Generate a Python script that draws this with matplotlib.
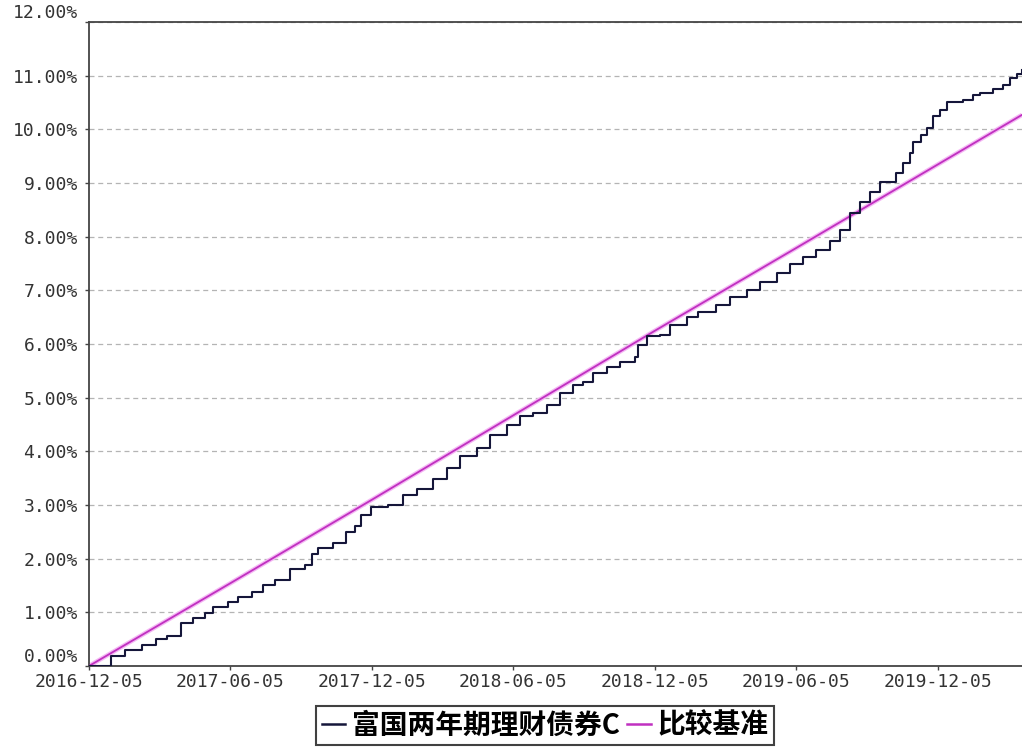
import pandas as pd
import matplotlib
matplotlib.use("Agg")
import matplotlib.pyplot as plt
import matplotlib.dates as mdates

# fund cumulative return (%)
fund_dates = [
    "2016-12-05", "2017-01-03", "2017-01-20", "2017-02-11", "2017-03-02", "2017-03-15",
    "2017-04-03", "2017-04-18", "2017-05-04", "2017-05-14", "2017-06-02", "2017-06-15",
    "2017-07-03", "2017-07-17", "2017-08-02", "2017-08-21", "2017-09-09", "2017-09-18",
    "2017-09-26", "2017-10-16", "2017-11-02", "2017-11-13", "2017-11-21", "2017-12-04",
    "2017-12-25", "2018-01-14", "2018-02-01", "2018-02-21", "2018-03-11", "2018-03-29",
    "2018-04-19", "2018-05-06", "2018-05-28", "2018-06-14", "2018-06-30", "2018-07-18",
    "2018-08-04", "2018-08-21", "2018-09-03", "2018-09-16", "2018-10-04", "2018-10-21",
    "2018-11-09", "2018-11-13", "2018-11-24", "2018-12-11", "2018-12-24", "2019-01-15",
    "2019-01-29", "2019-02-22", "2019-03-11", "2019-04-02", "2019-04-19", "2019-05-11",
    "2019-05-28", "2019-06-14", "2019-07-01", "2019-07-18", "2019-07-31", "2019-08-13",
    "2019-08-26", "2019-09-08", "2019-09-21", "2019-10-12", "2019-10-20", "2019-10-29",
    "2019-11-02", "2019-11-13", "2019-11-20", "2019-11-28", "2019-12-07", "2019-12-16",
    "2020-01-06", "2020-01-19", "2020-01-28", "2020-02-14", "2020-02-27", "2020-03-07",
    "2020-03-15", "2020-03-22",
]
fund_values = [
    0.00, 0.19, 0.30, 0.39, 0.50, 0.55,
    0.80, 0.89, 0.99, 1.10, 1.20, 1.29,
    1.38, 1.51, 1.60, 1.81, 1.88, 2.09,
    2.20, 2.29, 2.50, 2.60, 2.81, 2.97,
    3.00, 3.19, 3.30, 3.48, 3.69, 3.91,
    4.06, 4.30, 4.49, 4.65, 4.71, 4.86,
    5.08, 5.24, 5.30, 5.46, 5.58, 5.67,
    5.76, 5.98, 6.14, 6.17, 6.35, 6.51,
    6.60, 6.73, 6.87, 7.00, 7.16, 7.32,
    7.49, 7.63, 7.76, 7.91, 8.12, 8.44,
    8.65, 8.84, 9.02, 9.18, 9.37, 9.56,
    9.77, 9.89, 10.02, 10.24, 10.36, 10.51,
    10.55, 10.64, 10.67, 10.76, 10.83, 10.95,
    11.04, 11.10,
]

# benchmark (%), straight line read at the tick dates
bench_dates = ["2016-12-05", "2017-06-05", "2017-12-05", "2018-06-05",
               "2018-12-05", "2019-06-05", "2019-12-05", "2020-03-22"]
bench_values = [0.00, 1.54, 3.10, 4.67, 6.25, 7.79, 9.35, 10.27]

tick_dates = ["2016-12-05", "2017-06-05", "2017-12-05", "2018-06-05",
              "2018-12-05", "2019-06-05", "2019-12-05"]
y_ticks = [0, 1, 2, 3, 4, 5, 6, 7, 8, 9, 10, 11, 12]

fund_label = "富国两年期理财债券C"
bench_label = "比较基准"

fund_x = pd.to_datetime(fund_dates)
bench_x = pd.to_datetime(bench_dates)
ticks_x = pd.to_datetime(tick_dates)

fig = plt.figure(figsize=(10.22, 7.47), dpi=100)
ax = fig.add_axes([89 / 1022, 1 - 666 / 747, 1 - 89 / 1022, (666 - 22) / 747])

ax.plot(bench_x, bench_values, color="#f4b8f4", lw=3.2, solid_capstyle="butt", zorder=2)
bench_line, = ax.plot(bench_x, bench_values, color="#c030c0", lw=1.3, zorder=3)
fund_line, = ax.plot(fund_x, fund_values, color="#15163a", lw=1.5,
                     drawstyle="steps-post", zorder=4)

ax.set_xlim(fund_x[0], fund_x[-1])
ax.set_ylim(0, 12)
ax.set_yticks(y_ticks, [f"{v:.2f}%" for v in y_ticks])
ax.set_xticks(ticks_x)
ax.xaxis.set_major_formatter(mdates.DateFormatter("%Y-%m-%d"))

ax.grid(axis="y", linestyle=(0, (4, 3)), color="#b4b4b4", lw=0.9)
ax.set_axisbelow(True)

for side in ["left", "top", "bottom"]:
    ax.spines[side].set_color("#444444")
    ax.spines[side].set_linewidth(1.3)
ax.spines["right"].set_visible(False)

ax.tick_params(axis="y", length=3, width=1, color="#444444", pad=5,
               labelsize=13, labelcolor="#333333")
ax.tick_params(axis="x", length=3, width=1, color="#444444", pad=2,
               labelsize=13, labelcolor="#333333")
for lab in ax.get_xticklabels() + ax.get_yticklabels():
    lab.set_family("DejaVu Sans Mono")

# the end labels of the y axis sit a little higher, as in the original
ylabs = ax.get_yticklabels()
ylabs[0].set_verticalalignment("bottom")
ylabs[-1].set_verticalalignment("bottom")

leg = fig.legend([fund_line, bench_line], [fund_label, bench_label],
                 loc="upper center", bbox_to_anchor=(545 / 1022, 1 - 706 / 747),
                 ncol=2, frameon=True, fancybox=False, edgecolor="#111111",
                 handlelength=0.85, handletextpad=0.25, columnspacing=0.25,
                 borderpad=0.2, borderaxespad=0,
                 prop={"family": ["Noto Sans CJK SC", "DejaVu Sans"],
                       "weight": "bold", "size": 20})
leg.get_frame().set_linewidth(1.5)
for h in leg.legend_handles:
    h.set_linewidth(1.8)

fig.savefig("out.png", dpi=100)
